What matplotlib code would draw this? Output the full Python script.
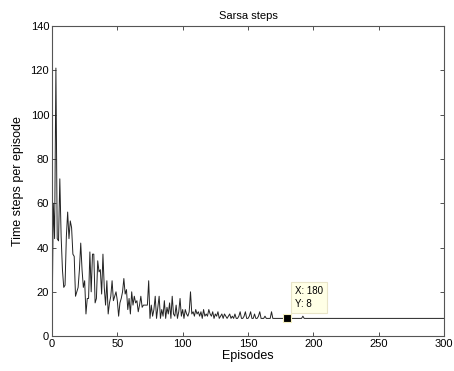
import matplotlib
matplotlib.use('Agg')
import matplotlib.pyplot as plt
import numpy as np

plt.rcParams['font.family'] = ['Liberation Sans', 'DejaVu Sans']

# steps per episode, episodes 0..300
steps_head = [
    0, 60, 44, 121, 44, 43, 71, 45, 30, 22,
    23, 45, 56, 44, 52, 49, 37, 36, 18, 20,
    22, 30, 42, 30, 22, 25, 10, 17, 17, 38,
    20, 37, 37, 15, 17, 34, 29, 30, 19, 37,
    22, 14, 25, 10, 15, 18, 25, 16, 18, 20,
    16, 9, 15, 17, 20, 26, 19, 21, 12, 17,
    10, 20, 14, 18, 15, 16, 11, 14, 18, 13,
    14, 14, 14, 14, 25, 8, 14, 9, 12, 18,
    8, 13, 18, 8, 12, 9, 16, 8, 13, 10,
    15, 8, 18, 10, 9, 14, 8, 11, 17, 9,
    12, 8, 12, 10, 9, 11, 20, 10, 11, 9,
    12, 10, 11, 9, 11, 8, 12, 9, 10, 9,
    12, 10, 9, 11, 8, 10, 9, 11, 8, 9,
    10, 8, 10, 9, 8, 9, 10, 8, 9, 8,
    10, 8, 8, 9, 11, 8, 8, 9, 11, 8,
    8, 9, 11, 8, 8, 10, 8, 8, 9, 11,
    8, 8, 8, 9, 8, 8, 8, 8, 11, 8,
    8, 8, 8, 8, 8, 8, 8, 8, 8, 8,
]
steps_tail = [
    8, 8, 8, 8, 8, 8, 8, 8, 8, 8,
    8, 8, 9, 8, 8, 8, 8, 8, 8, 8,
    8, 8, 8, 8, 8, 8, 8, 8, 8, 8,
    8, 8, 8, 8, 8, 8, 8, 8, 8, 8,
    8, 8, 8, 8, 8, 8, 8, 8, 8, 8,
    8, 8, 8, 8, 8, 8, 8, 8, 8, 8,
    8, 8, 8, 8, 8, 8, 8, 8, 8, 8,
    8, 8, 8, 8, 8, 8, 8, 8, 8, 8,
    8, 8, 8, 8, 8, 8, 8, 8, 8, 8,
    8, 8, 8, 8, 8, 8, 8, 8, 8, 8,
    8, 8, 8, 8, 8, 8, 8, 8, 8, 8,
    8, 8, 8, 8, 8, 8, 8, 8, 8, 8,
    8,
]
steps = steps_head + steps_tail
episodes = list(range(len(steps)))

tip_x, tip_y = 180, 8
x_ticks = [0, 50, 100, 150, 200, 250, 300]
y_ticks = [0, 20, 40, 60, 80, 100, 120, 140]

fig = plt.figure(figsize=(4.54, 3.71), dpi=100)
ax = fig.add_axes([0.1145, 0.094, 0.8635, 0.836])

ax.plot(episodes, steps, color='#222222', linewidth=0.7)

# data tip
ax.plot([tip_x], [tip_y], marker='s', markersize=5.5, color='black',
        markeredgecolor='#f5f0c0', markeredgewidth=0.8, linestyle='none', zorder=5)
ax.annotate('X: %d\nY: %d' % (tip_x, tip_y), xy=(tip_x, tip_y),
            xytext=(5.7, 7), textcoords='offset points', fontsize=7,
            ha='left', va='bottom', linespacing=1.3,
            bbox=dict(boxstyle='square,pad=0.45', fc='#ffffe6', ec='#e8e4c8', lw=0.8))

ax.set_xlim(0, 300)
ax.set_ylim(0, 140)
ax.set_xticks(x_ticks)
ax.set_yticks(y_ticks)
ax.tick_params(direction='in', top=True, right=True, length=3, width=0.6,
               labelsize=8, colors='#333333', pad=2)
ax.tick_params(labelcolor='black')
for s in ax.spines.values():
    s.set_color('#555555')
    s.set_linewidth(0.8)

ax.set_title('Sarsa steps', fontsize=8, pad=5)
ax.set_xlabel('Episodes', fontsize=9, labelpad=1)
ax.set_ylabel('Time steps per episode', fontsize=9, labelpad=5)

fig.savefig('out.png', dpi=100)
